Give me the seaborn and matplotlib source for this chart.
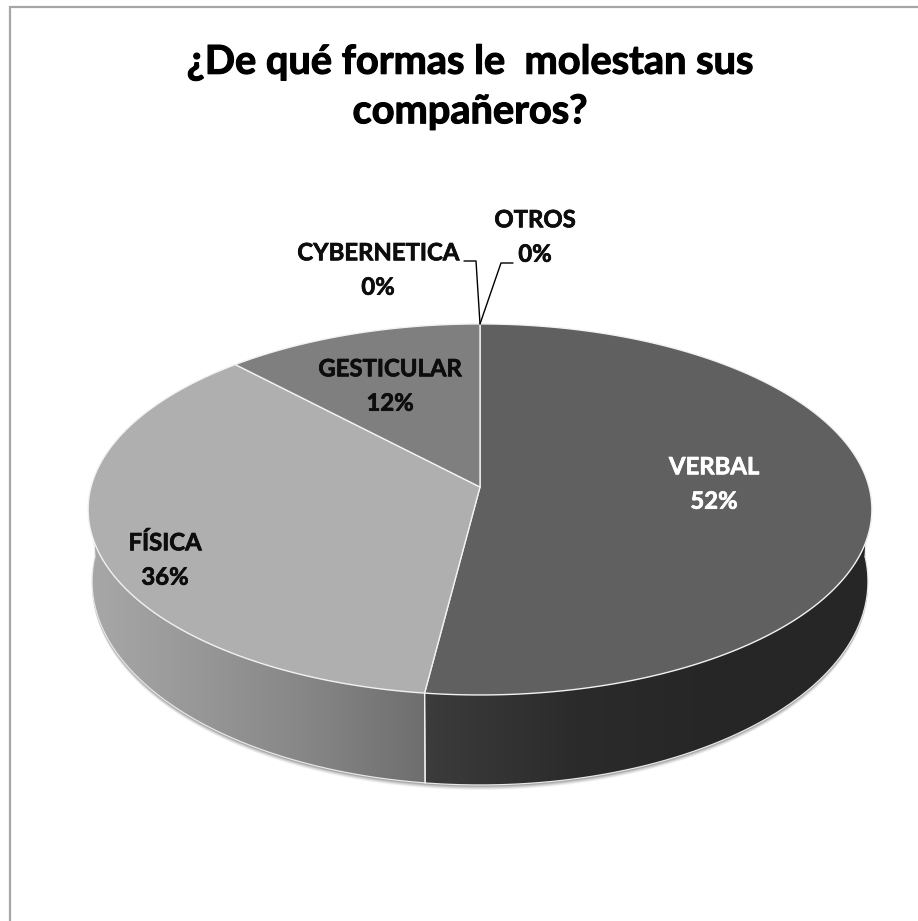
import numpy as np
import matplotlib
matplotlib.use("Agg")
import matplotlib.pyplot as plt
import matplotlib.patheffects as pe
from matplotlib.patches import Polygon
import seaborn as sns

sns.set_theme(style="white")
plt.rcParams['font.family'] = ['Lato', 'DejaVu Sans']

# data
categories = ["VERBAL", "FÍSICA", "GESTICULAR", "CYBERNETICA", "OTROS"]
values = [52, 36, 12, 0, 0]
title = "¿De qué formas le  molestan sus\ncompañeros?"

# style
top_colors = ["#606060", "#afafaf", "#7f7f7f", "#7f7f7f", "#7f7f7f"]
wall_palettes = {
    "VERBAL": ["#3c3c3c", "#2b2b2b", "#262626", "#262626"],
    "FÍSICA": ["#6e6e6e", "#858585", "#979797", "#a8a8a8"],
}
label_pos = {"VERBAL": (714, 484), "FÍSICA": (165, 560), "GESTICULAR": (390, 386),
             "CYBERNETICA": (378, 270), "OTROS": (535, 237)}
label_col = {"VERBAL": "white"}

W, H = 918, 921
fig = plt.figure(figsize=(W / 100, H / 100), dpi=100)
ax = fig.add_axes([0, 0, 1, 1])
ax.set_xlim(0, W)
ax.set_ylim(H, 0)
ax.axis("off")

CX, CY, A, B, K = 480.0, 487.0, 389.0, 182.8, 0.121


def project(theta):
    """clockwise angle from 12 o'clock -> perspective point on the top disc"""
    X, Y = np.sin(theta), np.cos(theta)
    w = 1 + K * Y
    return CX + A * X / w, CY - B * Y / w


def drop(x, y):
    """same rim point on the lower edge of the disc"""
    return 480 + (x - 480) * 0.99, y + 72 + 18 * (y - 510) / 185


shares = np.array(values, float) / np.sum(values)
edges = np.concatenate([[0], np.cumsum(shares)]) * 2 * np.pi

# soft shadow below the disc
full = np.linspace(0, 2 * np.pi, 400)
fx, fy = drop(*project(full))
for d, alpha in [(5, .05), (4, .07), (3, .09), (2, .12), (1, .15)]:
    ax.add_patch(Polygon(np.c_[fx, fy + d], closed=True, fc="black", ec="none",
                         alpha=alpha, zorder=1))

# walls, front half only
for name, a0, a1 in zip(categories, edges[:-1], edges[1:]):
    lo, hi = max(a0, np.pi / 2), min(a1, 3 * np.pi / 2)
    if hi <= lo or name not in wall_palettes:
        continue
    th = np.linspace(lo, hi, 200)
    ux, uy = project(th)
    dx, dy = drop(ux, uy)
    verts = np.r_[np.c_[ux, uy], np.c_[dx, dy][::-1]]
    poly = Polygon(verts, closed=True, fc="none", ec="none", zorder=2)
    ax.add_patch(poly)
    cmap = sns.blend_palette(wall_palettes[name], as_cmap=True)
    grad = np.linspace(0, 1, 256)[None, :]
    x0, x1 = verts[:, 0].min(), verts[:, 0].max()
    if name == "FÍSICA":
        x0, x1 = x1, x0
    im = ax.imshow(grad, cmap=cmap, aspect="auto", extent=[x0, x1, verts[:, 1].max(),
                   verts[:, 1].min()], zorder=2, interpolation="bilinear")
    im.set_clip_path(poly)
    ax.plot(dx, dy, color="#e8e8e8", lw=0.9, zorder=3)
    ax.plot([dx[0], ux[0]], [dy[0], uy[0]], color="#f0f0f0", lw=0.9, zorder=3)
    ax.plot([dx[-1], ux[-1]], [dy[-1], uy[-1]], color="#f0f0f0", lw=0.9, zorder=3)
ax.set_xlim(0, W)
ax.set_ylim(H, 0)

# top faces
for name, col, a0, a1 in zip(categories, top_colors, edges[:-1], edges[1:]):
    if a1 <= a0:
        continue
    th = np.linspace(a0, a1, 300)
    px, py = project(th)
    ax.fill(np.r_[CX, px], np.r_[CY, py], fc=col, ec="#f2f2f2", lw=1.0,
            joinstyle="round", zorder=4)

# leader lines for the empty slices
tx, ty = project(edges[-1])
ax.plot([464, 476, tx], [261, 261, ty], color="black", lw=1.0, zorder=5)
ax.plot([513, 501, tx], [263, 263, ty], color="black", lw=1.0, zorder=5)

# labels
for name, v in zip(categories, values):
    x, y = label_pos[name]
    col = label_col.get(name, "#0d0d0d")
    ax.text(x, y, f"{name}\n{v}%", ha="center", va="center", fontsize=17.2,
            fontweight="bold", linespacing=1.6, color=col, zorder=6,
            path_effects=[pe.withStroke(linewidth=0.5, foreground=col)])

ax.text(470, 87, title, ha="center", va="center", fontsize=28.6, fontweight="bold",
        linespacing=1.4, color="black", zorder=6,
        path_effects=[pe.withStroke(linewidth=0.8, foreground="black")])

# chart frame (left and top only are visible in the crop)
ax.plot([10, 10, W], [H, 7, 7], color="#a6a6a6", lw=1.6, zorder=7, solid_joinstyle="miter")

fig.savefig("out.png", dpi=100)
